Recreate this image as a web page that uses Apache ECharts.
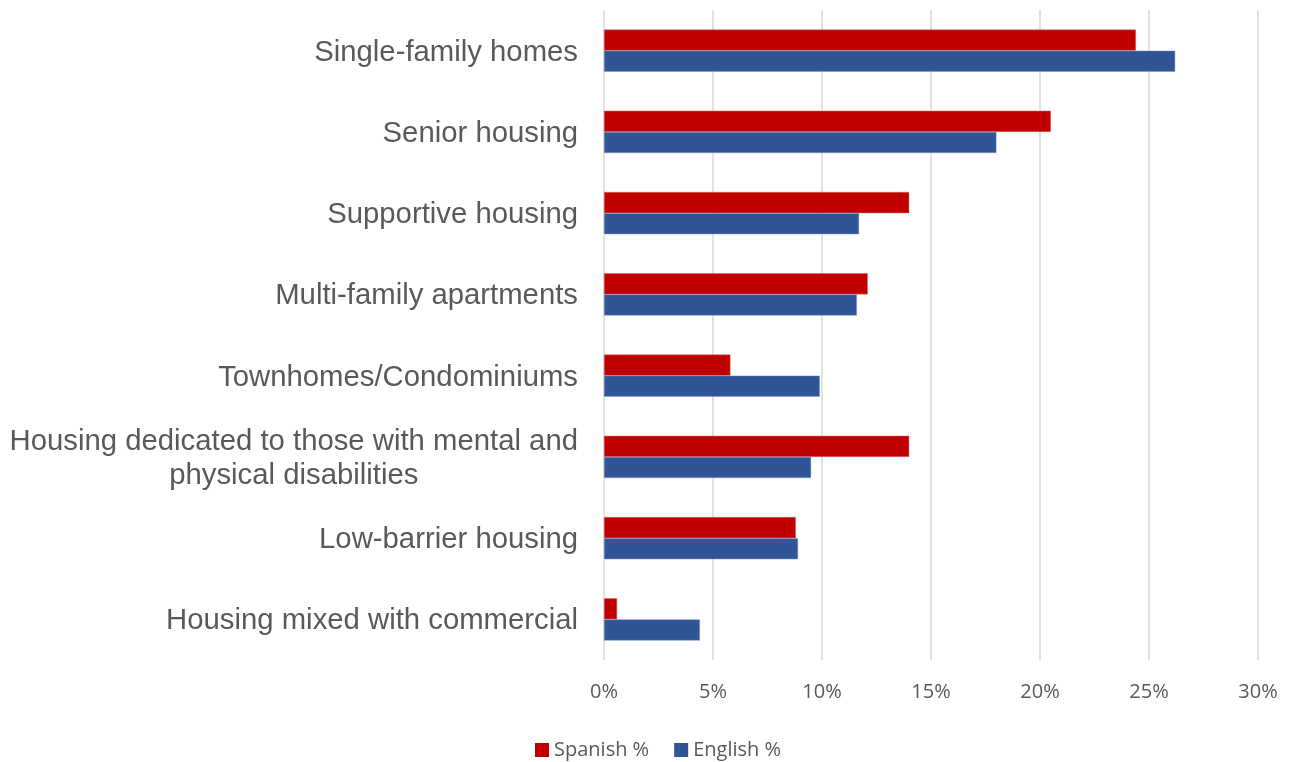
<!DOCTYPE html>
<html>
<head>
<meta charset="utf-8">
<script src="https://cdn.jsdelivr.net/npm/echarts@6/dist/echarts.min.js"></script>
<style>
html,body{margin:0;padding:0;background:#fff;}
#chart{width:1291px;height:762px;}
</style>
</head>
<body>
<div id="chart"></div>
<script>
const categories = [
  "Single-family homes",
  "Senior housing",
  "Supportive housing",
  "Multi-family apartments",
  "Townhomes/Condominiums",
  "Housing dedicated to those with mental and\nphysical disabilities",
  "Low-barrier housing",
  "Housing mixed with commercial"
];
const spanishPct = [24.4, 20.5, 14.0, 12.1, 5.8, 14.0, 8.8, 0.6];
const englishPct = [26.2, 18.0, 11.7, 11.6, 9.9, 9.5, 8.9, 4.4];
const seriesNames = ["Spanish %", "English %"];
const xTicks = { min: 0, max: 30, interval: 5 };

const chart = echarts.init(document.getElementById('chart'), null, { renderer: 'canvas' });
const tickFont = { fontFamily: '"Open Sans", "Noto Sans", sans-serif', fontSize: 20, color: '#595959' };
const labelFont = '"Liberation Sans", Arial, sans-serif';

chart.setOption({
  animation: false,
  backgroundColor: '#ffffff',
  grid: { left: 604, right: 33, top: 10, bottom: 102, containLabel: false },
  legend: {
    data: seriesNames,
    left: 530,
    top: 735,
    itemWidth: 14,
    itemHeight: 14,
    itemGap: 25,
    icon: 'rect',
    itemStyle: { borderWidth: 0 },
    textStyle: tickFont
  },
  xAxis: {
    type: 'value',
    min: xTicks.min,
    max: xTicks.max,
    interval: xTicks.interval,
    axisLine: { show: false },
    axisTick: { show: false },
    splitLine: { show: true, lineStyle: { color: '#d9d9d9', width: 1.5 } },
    axisLabel: Object.assign({ formatter: '{value}%', margin: 22 }, tickFont)
  },
  yAxis: {
    type: 'category',
    inverse: true,
    data: categories,
    axisLine: { show: false },
    axisTick: { show: false },
    axisLabel: {
      margin: 26,
      fontFamily: labelFont,
      fontSize: 29.3,
      color: '#595959',
      lineHeight: 34,
      padding: [4, 0, 0, 0],
      formatter: function (v) { return v.indexOf('\n') >= 0 ? '{c|' + v.split('\n').join('}\n{c|') + '}' : v; },
      rich: {
        c: { align: 'center', fontFamily: labelFont, fontSize: 29.3, color: '#595959', lineHeight: 34 }
      }
    }
  },
  series: [
    {
      name: seriesNames[0], type: 'bar', data: spanishPct,
      barGap: '0%', barCategoryGap: '48%',
      itemStyle: { color: '#C00000', borderColor: '#e06a6a', borderWidth: 0.5 }
    },
    {
      name: seriesNames[1], type: 'bar', data: englishPct,
      barGap: '0%', barCategoryGap: '48%',
      itemStyle: { color: '#2F5597', borderColor: '#7f97c4', borderWidth: 0.5 }
    }
  ]
});
</script>
</body>
</html>
